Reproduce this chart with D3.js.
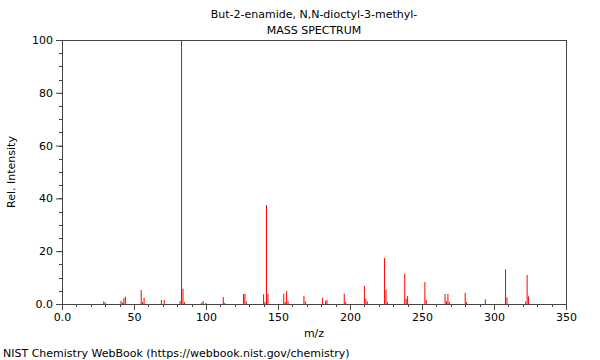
<!DOCTYPE html>
<html>
<head>
<meta charset="utf-8">
<title>mass spectrum</title>
<style>
    body { margin: 0; background: #fff; }
    svg text { font-family: "DejaVu Sans", sans-serif; fill: #000; }
</style>
</head>
<body>
<svg width="600" height="360"></svg>
<script src="https://cdn.jsdelivr.net/npm/d3@7"></script>
<script>
// peaks: m/z and relative intensity
var mz        = [29, 30, 41, 42, 43, 44, 55, 56, 57, 69, 71, 82, 83, 84, 85, 97, 98, 100, 112, 113,
                 126, 127, 128, 140, 141, 142, 143, 154, 155, 156, 157, 168, 169, 181, 183, 184,
                 196, 197, 210, 211, 212, 224, 225, 226, 238, 239, 240, 252, 253, 266, 267, 268, 269,
                 280, 281, 294, 308, 309, 322, 323, 324];
var intensity = [1.0, 0.6, 1.2, 0.5, 2.2, 2.8, 5.3, 0.8, 2.4, 1.5, 1.5, 1.1, 100, 5.8, 0.8, 0.5, 1.1, 0.4, 2.6, 0.4,
                 3.8, 3.8, 1.0, 3.7, 0.8, 37.5, 3.9, 3.9, 0.8, 4.9, 1.0, 3.1, 1.0, 2.4, 1.2, 1.5,
                 3.9, 0.8, 6.9, 2.0, 1.0, 17.4, 5.4, 0.7, 11.4, 2.0, 3.0, 8.3, 1.5, 3.8, 1.0, 3.8, 0.8,
                 4.2, 0.8, 1.8, 13.1, 2.5, 1.0, 11.0, 2.9];
var xTicks = [0, 50, 100, 150, 200, 250, 300, 350];
var yTicks = [0, 20, 40, 60, 80, 100];
var titleLines = ['But-2-enamide, N,N-dioctyl-3-methyl-', 'MASS SPECTRUM'];

var svg = d3.select('svg');
// note: "top" is taken by window.top, so use other names
var plotL = 62, plotR = 566, plotT = 40, plotB = 304;

var x = d3.scaleLinear().domain([0, 350]).range([plotL, plotR]);
var y = d3.scaleLinear().domain([0, 100]).range([plotB, plotT]);

var axisColor = '#444';

// minor ticks
svg.append('g').selectAll('line')
    .data(d3.range(0, 351, 10))
    .join('line')
    .attr('x1', function(d){ return Math.round(x(d)) + 0.5; })
    .attr('x2', function(d){ return Math.round(x(d)) + 0.5; })
    .attr('y1', plotB).attr('y2', plotB + 3)
    .attr('stroke', axisColor);
svg.append('g').selectAll('line')
    .data(d3.range(0, 101, 5))
    .join('line')
    .attr('y1', function(d){ return Math.round(y(d)) + 0.5; })
    .attr('y2', function(d){ return Math.round(y(d)) + 0.5; })
    .attr('x1', plotL).attr('x2', plotL - 3)
    .attr('stroke', axisColor);

var xAxis = d3.axisBottom(x).tickValues(xTicks).tickSize(6).tickPadding(3)
    .tickFormat(function(d){ return d === 0 ? '0.0' : d; });
var yAxis = d3.axisLeft(y).tickValues(yTicks).tickSize(6).tickPadding(3)
    .tickFormat(function(d){ return d === 0 ? '0.0' : d; });

var gx = svg.append('g').attr('transform', 'translate(0,' + plotB + ')').call(xAxis);
var gy = svg.append('g').attr('transform', 'translate(' + plotL + ',0)').call(yAxis);
[gx, gy].forEach(function(g){
    g.select('.domain').remove();
    g.selectAll('line').attr('stroke', axisColor);
    g.selectAll('text').style('font-size', '11px').style('font-family', '"DejaVu Sans", sans-serif');
});

// peaks, as 1px wide rects
svg.append('g').selectAll('rect')
    .data(mz)
    .join('rect')
    .attr('x', function(d){ return x(d) - 0.5; })
    .attr('width', 1)
    .attr('y', function(d, i){ return y(intensity[i]); })
    .attr('height', function(d, i){ return y(0) - y(intensity[i]); })
    .attr('fill', '#ff0000');

// frame
svg.append('rect')
    .attr('x', plotL + 0.5).attr('y', plotT + 0.5)
    .attr('width', plotR - plotL).attr('height', plotB - plotT)
    .attr('fill', 'none').attr('stroke', axisColor);

// titles
svg.append('g').selectAll('text')
    .data(titleLines)
    .join('text')
    .attr('x', (plotL + plotR) / 2)
    .attr('y', function(d, i){ return 18 + i * 16; })
    .attr('text-anchor', 'middle')
    .style('font-size', '11px')
    .text(function(d){ return d; });

svg.append('text')
    .attr('x', (plotL + plotR) / 2).attr('y', 337)
    .attr('text-anchor', 'middle')
    .style('font-size', '11px')
    .text('m/z');

svg.append('text')
    .attr('transform', 'translate(15,' + (plotT + plotB) / 2 + ') rotate(-90)')
    .attr('text-anchor', 'middle')
    .style('font-size', '11px')
    .text('Rel. Intensity');

svg.append('text')
    .attr('x', 3).attr('y', 357)
    .style('font-size', '11px')
    .text('NIST Chemistry WebBook (https://webbook.nist.gov/chemistry)');
</script>
</body>
</html>
